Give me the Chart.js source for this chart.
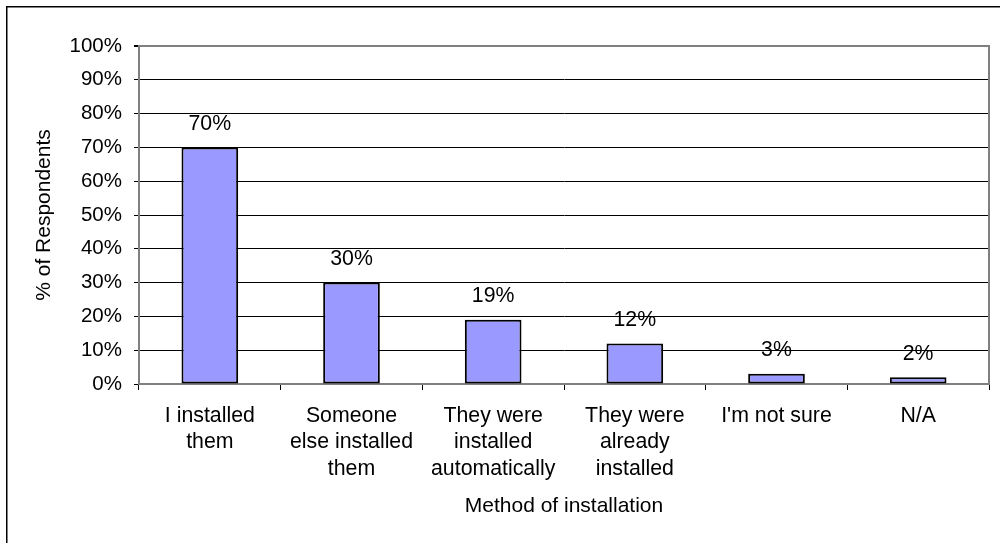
<!DOCTYPE html>
<html>
<head>
<meta charset="utf-8">
<script src="https://cdn.jsdelivr.net/npm/chart.js@4/dist/chart.umd.min.js"></script>
<style>
  html, body { margin: 0; padding: 0; background: #fff; }
  #wrap { width: 1000px; height: 543px; }
</style>
</head>
<body>
<div id="wrap"><canvas id="c" width="1000" height="543"></canvas></div>
<script>
// Survey results: how the respondents' tools got installed
const categories = [
  ['I installed', 'them'],
  ['Someone', 'else installed', 'them'],
  ['They were', 'installed', 'automatically'],
  ['They were', 'already', 'installed'],
  ["I'm not sure"],
  ['N/A']
];
const percentValues = [70, 30, 19, 12, 3, 2];
const yTickValues = [0, 10, 20, 30, 40, 50, 60, 70, 80, 90, 100];
const xAxisTitle = 'Method of installation';
const yAxisTitle = '% of Respondents';

const FONT = "'Liberation Sans', Arial, sans-serif";
const TEXT_SIZE = 21.3;
Chart.defaults.font.family = FONT;
Chart.defaults.font.size = TEXT_SIZE;
Chart.defaults.color = '#000';

// White page, outer frame edge, plot-area right edge and value labels
const decorations = {
  id: 'decorations',
  beforeDraw(chart) {
    const c = chart.ctx;
    c.save();
    c.fillStyle = '#fff';
    c.fillRect(0, 0, chart.width, chart.height);
    c.fillStyle = '#000';
    c.fillRect(6, 6, chart.width - 6, 1.5);
    c.fillRect(6, 6, 1.5, chart.height - 6);
    c.restore();
  },
  afterDatasetsDraw(chart) {
    const c = chart.ctx;
    const a = chart.chartArea;
    c.save();
    c.strokeStyle = '#808080';
    c.lineWidth = 2;
    c.beginPath();
    c.moveTo(a.right, a.top - 1);
    c.lineTo(a.right, a.bottom);
    c.stroke();

    c.fillStyle = '#000';
    c.font = TEXT_SIZE + 'px ' + FONT;
    c.textAlign = 'center';
    c.textBaseline = 'middle';
    const meta = chart.getDatasetMeta(0);
    meta.data.forEach((bar, i) => {
      c.fillText(percentValues[i] + '%', bar.x, bar.y - 23.5);
    });
    c.restore();
  }
};

new Chart(document.getElementById('c'), {
  type: 'bar',
  data: {
    labels: categories,
    datasets: [{
      data: percentValues,
      backgroundColor: '#9999FF',
      borderColor: '#000',
      borderWidth: 2,
      borderSkipped: false,
      categoryPercentage: 1,
      barPercentage: 0.4
    }]
  },
  options: {
    responsive: false,
    animation: false,
    devicePixelRatio: 1,
    layout: { padding: { left: 0, right: 11, top: 46, bottom: 0 } },
    plugins: {
      legend: { display: false },
      tooltip: { enabled: false }
    },
    scales: {
      x: {
        grid: {
          offset: true,
          drawOnChartArea: false,
          drawTicks: true,
          tickLength: 6,
          tickColor: '#000',
          tickWidth: 1
        },
        border: { color: '#808080', width: 2 },
        ticks: {
          padding: 12.5,
          maxRotation: 0,
          autoSkip: false,
          font: { size: TEXT_SIZE, lineHeight: 26.7 / TEXT_SIZE }
        },
        title: {
          display: true,
          text: xAxisTitle,
          padding: { top: 0, bottom: 24 },
          font: { size: 21, lineHeight: 1.2 }
        },
        afterFit(scale) { scale.height = 159; }
      },
      y: {
        min: 0,
        max: 100,
        afterBuildTicks(scale) {
          scale.ticks = yTickValues.map(v => ({ value: v }));
        },
        ticks: {
          padding: 12,
          font: { size: 20.5 },
          callback: v => v + '%'
        },
        grid: {
          color: ctx => (ctx.tick && ctx.tick.value === 100) ? '#808080' : '#000',
          lineWidth: ctx => (ctx.tick && ctx.tick.value === 100) ? 2 : 1,
          tickColor: '#000',
          tickLength: 5
        },
        border: { color: '#808080', width: 2 },
        title: {
          display: true,
          text: yAxisTitle,
          padding: { top: 32, bottom: 0 },
          font: { size: 21, lineHeight: 1.2 }
        },
        afterFit(scale) { scale.width = 139; }
      }
    }
  },
  plugins: [decorations]
});
</script>
</body>
</html>
